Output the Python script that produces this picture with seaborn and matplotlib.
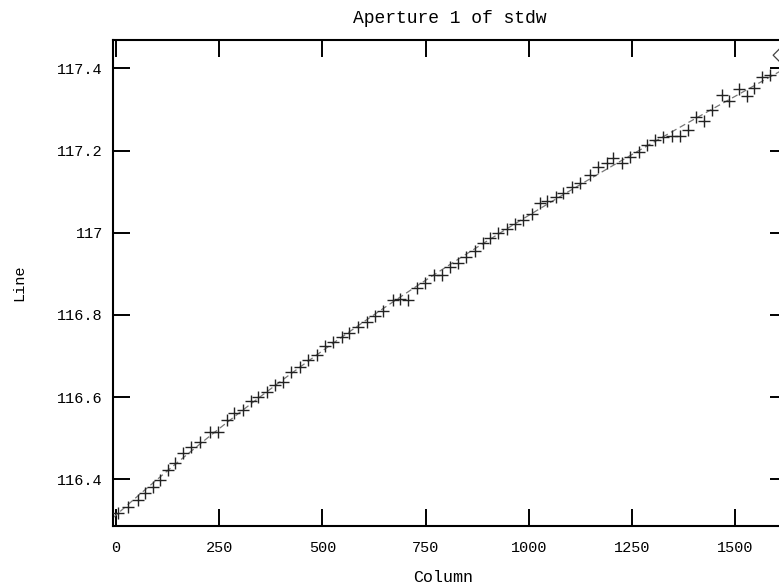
import matplotlib
matplotlib.use("Agg")
import matplotlib.pyplot as plt
import seaborn as sns
import pandas as pd

# ---- data ----
columns = [5, 30, 53, 70, 90, 107, 126, 143, 162, 182, 203, 228, 248, 268, 287,
           308, 328, 345, 365, 385, 405, 425, 446, 466, 486, 506, 526, 547, 565,
           587, 607, 627, 648, 672, 688, 708, 728, 748, 771, 789, 809, 829, 849,
           869, 890, 906, 926, 947, 967, 987, 1007, 1026, 1045, 1066, 1084, 1104,
           1124, 1148, 1168, 1189, 1205, 1225, 1245, 1266, 1286, 1306, 1326, 1347,
           1367, 1385, 1404, 1424, 1444, 1469, 1485, 1509, 1529, 1545, 1565, 1585]
lines = [116.317, 116.333, 116.350, 116.367, 116.382, 116.398, 116.423, 116.439,
         116.464, 116.479, 116.491, 116.516, 116.516, 116.543, 116.562, 116.569,
         116.591, 116.600, 116.613, 116.629, 116.637, 116.662, 116.674, 116.690,
         116.702, 116.724, 116.735, 116.747, 116.755, 116.771, 116.783, 116.797,
         116.810, 116.836, 116.838, 116.836, 116.865, 116.877, 116.897, 116.897,
         116.917, 116.926, 116.942, 116.956, 116.974, 116.986, 116.998, 117.010,
         117.021, 117.030, 117.046, 117.072, 117.078, 117.088, 117.096, 117.112,
         117.120, 117.140, 117.161, 117.169, 117.181, 117.170, 117.185, 117.197,
         117.213, 117.226, 117.234, 117.235, 117.235, 117.250, 117.281, 117.272,
         117.299, 117.335, 117.321, 117.349, 117.333, 117.351, 117.379, 117.383]
cursor_col = [1607]
cursor_line = [117.432]

x_ticks = [0, 250, 500, 750, 1000, 1250, 1500]
y_ticks = [116.4, 116.6, 116.8, 117.0, 117.2, 117.4]
y_tick_labels = ["116.4", "116.6", "116.8", "117", "117.2", "117.4"]

title = "Aperture 1 of stdw"
x_label = "Column"
y_label = "Line"

df = pd.DataFrame({"Column": columns, "Line": lines})

sns.set_theme(style="white")
plt.rcParams["font.family"] = ["Liberation Mono", "DejaVu Sans Mono"]

W, H = 779, 587
fig = plt.figure(figsize=(W / 100, H / 100), dpi=100)
left, right, top, bottom = 112.7, 787, 40, 526
ax = fig.add_axes([left / W, 1 - bottom / H, (right - left) / W, (bottom - top) / H])

ax.set_xlim(-8, 1625.5)
ax.set_ylim(116.286, 117.469)

sns.regplot(data=df, x="Column", y="Line", order=3, ci=None, scatter=False,
            truncate=False, ax=ax,
            line_kws=dict(color="#777777", lw=0.9, ls=(0, (5, 3))))
sns.scatterplot(data=df, x="Column", y="Line", marker="+", s=70,
                color="#222222", linewidth=1.0, ax=ax, zorder=3)
ax.scatter(cursor_col, cursor_line, marker="D", s=40, facecolors="none",
           edgecolors="#444444", linewidths=0.9, clip_on=False, zorder=4)

ax.set_xticks(x_ticks)
ax.set_xticklabels([str(v) for v in x_ticks])
ax.set_yticks(y_ticks)
ax.set_yticklabels(y_tick_labels)

ax.tick_params(axis="both", which="major", direction="in", length=12, width=1.4,
               color="black", labelsize=11, labelcolor="black")
ax.tick_params(axis="x", top=True, bottom=True, pad=11)
ax.tick_params(axis="y", left=True, right=True, pad=7)

for s in ax.spines.values():
    s.set_color("black")
    s.set_linewidth(1.5)
    s.set_visible(True)

ax.set_title(title, fontsize=13, pad=12, color="black")
ax.set_xlabel(x_label, fontsize=12, color="black")
ax.set_ylabel(y_label, fontsize=11, color="black")
ax.xaxis.set_label_coords((443 - left) / (right - left), -(570 - bottom) / (bottom - top))
ax.yaxis.set_label_coords(-(left - 26) / (right - left), 0.5)
ax.grid(False)

fig.savefig("out.png", dpi=100)
